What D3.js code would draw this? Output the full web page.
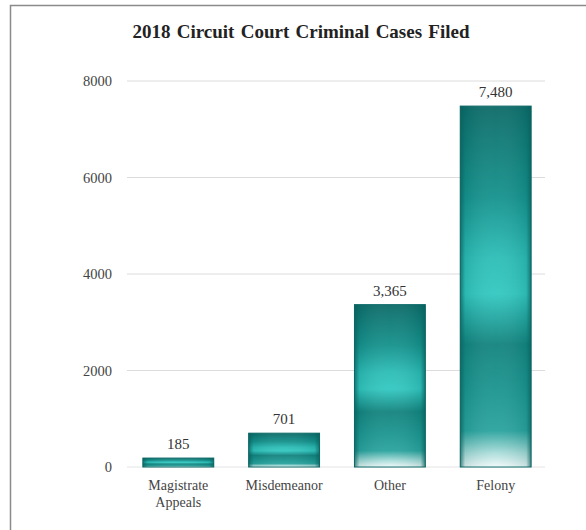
<!DOCTYPE html>
<html><head><meta charset="utf-8">
<script src="https://cdn.jsdelivr.net/npm/d3@7"></script>
<style>body{margin:0;background:#fff}svg{display:block}</style>
</head><body>
<svg id="c" width="586" height="530"></svg>
<script>
const categories = ["Magistrate Appeals", "Misdemeanor", "Other", "Felony"];
const values = [185, 701, 3365, 7480];
const valueLabels = ["185", "701", "3,365", "7,480"];
const yTicks = [0, 2000, 4000, 6000, 8000];
const title = "2018 Circuit Court Criminal Cases Filed";

const svg = d3.select("#c");
const font = "'Liberation Serif','Times New Roman',serif";

// frame
svg.append("path").attr("d","M10.5,530 V5.5 H586").attr("fill","none").attr("stroke","#8a8a8a").attr("stroke-width",1.5);

svg.append("text").attr("x",301).attr("y",38).attr("text-anchor","middle")
  .attr("font-family",font).attr("font-weight","bold").attr("font-size",19).attr("fill","#222")
  .attr("word-spacing",1.5).text(title);

const x = d3.scaleBand().domain(categories).range([127,547]).paddingInner(0.33).paddingOuter(0.15);
const y = d3.scaleLinear().domain([0,8000]).range([467,81]);

const defs = svg.append("defs");
const vg = defs.append("linearGradient").attr("id","vg").attr("x1",0).attr("y1",0).attr("x2",0).attr("y2",1);
[[0,"#0b6a67"],[0.08,"#0e7773"],[0.25,"#14918c"],[0.42,"#2cbdb7"],[0.52,"#32c8c1"],[0.66,"#12837e"],[0.8,"#1c9691"],[0.9,"#2aa39e"],[0.96,"#a8dcd9"],[1,"#f2fafa"]]
  .forEach(([o,c])=>vg.append("stop").attr("offset",o).attr("stop-color",c));
const hg = defs.append("linearGradient").attr("id","hg").attr("x1",0).attr("y1",0).attr("x2",1).attr("y2",0);
[[0,"#0a5e5b",0.75],[0.07,"#0a5e5b",0.15],[0.5,"#ffffff",0.05],[0.93,"#0a5e5b",0.15],[1,"#0a5e5b",0.75]]
  .forEach(([o,c,a])=>hg.append("stop").attr("offset",o).attr("stop-color",c).attr("stop-opacity",a));

// grid
svg.append("g").selectAll("line").data(yTicks.filter(d=>d>0)).join("line")
  .attr("x1",127).attr("x2",545).attr("y1",d=>y(d)).attr("y2",d=>y(d))
  .attr("stroke","#dcdcdc").attr("stroke-width",1);
svg.append("line").attr("x1",127).attr("x2",545).attr("y1",y(0)).attr("y2",y(0)).attr("stroke","#e4e4e4");

// y axis
const ya = d3.axisLeft(y).tickValues(yTicks).tickSize(0).tickPadding(0).tickFormat(d3.format("d"));
const yg = svg.append("g").attr("transform","translate(112,0)").call(ya);
yg.select(".domain").remove();
yg.selectAll("text").attr("font-family",font).attr("font-size",14.5).attr("fill","#444");

// bars
const bars = svg.append("g").selectAll("g").data(values).join("g");
bars.append("rect").attr("x",(d,i)=>x(categories[i])).attr("width",x.bandwidth())
  .attr("y",d=>y(d)).attr("height",d=>y(0)-y(d)).attr("fill","url(#vg)")
  .attr("stroke","#0b6a67").attr("stroke-width",1);
bars.append("rect").attr("x",(d,i)=>x(categories[i])).attr("width",x.bandwidth())
  .attr("y",d=>y(d)).attr("height",d=>y(0)-y(d)).attr("fill","url(#hg)");

// value labels
svg.append("g").selectAll("text").data(values).join("text")
  .attr("x",(d,i)=>x(categories[i])+x.bandwidth()/2).attr("y",d=>y(d)-9)
  .attr("text-anchor","middle").attr("font-family",font).attr("font-size",15).attr("fill","#333")
  .text((d,i)=>valueLabels[i]);

// x axis labels
const xa = d3.axisBottom(x).tickSize(0).tickPadding(0);
const xg = svg.append("g").attr("transform","translate(0,480)").call(xa);
xg.select(".domain").remove();
xg.selectAll("text").attr("font-family",font).attr("font-size",14).attr("fill","#444")
  .each(function(d){
    const t = d3.select(this); t.text(null);
    const words = d === "Magistrate Appeals" ? ["Magistrate","Appeals"] : [d];
    words.forEach((w,k)=>t.append("tspan").attr("x",0).attr("dy",k===0?"0.71em":"1.2em").text(w));
  });
</script>
</body></html>
